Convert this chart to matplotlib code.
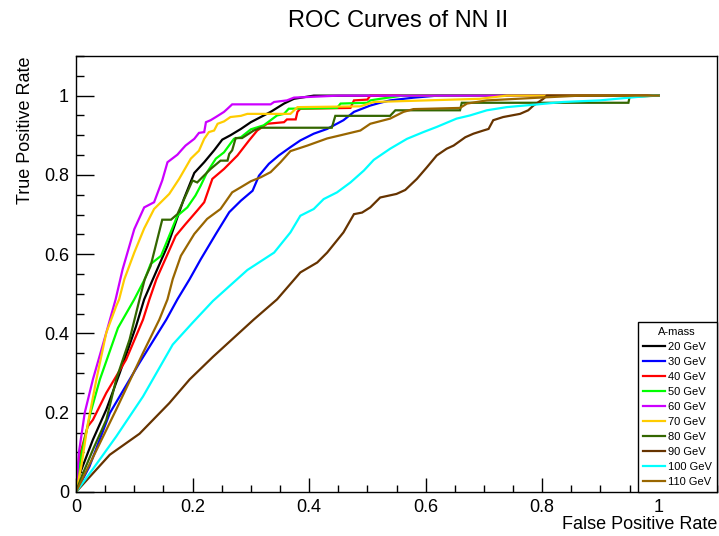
import matplotlib
matplotlib.use("Agg")
import matplotlib.pyplot as plt
from matplotlib.ticker import MultipleLocator

plt.rcParams['font.family'] = ['Liberation Sans', 'DejaVu Sans']

labels = ["20 GeV", "30 GeV", "40 GeV", "50 GeV", "60 GeV", "70 GeV", "80 GeV", "90 GeV", "100 GeV", "110 GeV"]
colors = ["#000000", "#0000ff", "#ff0000", "#00ff00", "#cc00ff", "#ffcc00", "#336600", "#663300", "#00ffff", "#996600"]

fpr_20 = [0, 0.005, 0.029, 0.052, 0.075, 0.103, 0.117, 0.132, 0.157, 0.185, 0.203, 0.22, 0.237, 0.251, 0.265, 0.283, 0.3, 0.317, 0.334, 0.357, 0.374, 0.408, 0.48, 1.0]
tpr_20 = [0, 0.04, 0.132, 0.208, 0.3, 0.418, 0.486, 0.537, 0.621, 0.739, 0.805, 0.832, 0.862, 0.889, 0.9, 0.916, 0.933, 0.946, 0.959, 0.98, 0.992, 1.0, 1.0, 1.0]

fpr_30 = [0, 0.023, 0.058, 0.109, 0.155, 0.174, 0.195, 0.214, 0.24, 0.263, 0.283, 0.303, 0.314, 0.331, 0.348, 0.368, 0.385, 0.408, 0.431, 0.459, 0.477, 0.505, 0.522, 0.539, 0.58, 0.62, 1.0]
tpr_30 = [0, 0.064, 0.199, 0.326, 0.435, 0.486, 0.537, 0.587, 0.651, 0.706, 0.735, 0.76, 0.798, 0.828, 0.849, 0.87, 0.887, 0.904, 0.916, 0.938, 0.959, 0.975, 0.982, 0.988, 0.995, 1.0, 1.0]

fpr_40 = [0, 0.008, 0.02, 0.029, 0.052, 0.086, 0.115, 0.126, 0.138, 0.171, 0.188, 0.208, 0.22, 0.234, 0.254, 0.277, 0.297, 0.311, 0.328, 0.357, 0.362, 0.377, 0.38, 0.385, 0.471, 0.477, 0.5, 0.505, 1.0]
tpr_40 = [0, 0.1, 0.165, 0.182, 0.25, 0.334, 0.435, 0.486, 0.537, 0.646, 0.676, 0.71, 0.731, 0.79, 0.815, 0.849, 0.887, 0.912, 0.929, 0.933, 0.94, 0.94, 0.959, 0.967, 0.969, 0.988, 0.99, 1.0, 1.0]

fpr_50 = [0, 0.01, 0.025, 0.041, 0.072, 0.1, 0.118, 0.128, 0.146, 0.174, 0.191, 0.205, 0.214, 0.225, 0.24, 0.254, 0.271, 0.283, 0.3, 0.322, 0.334, 0.345, 0.357, 0.365, 0.448, 0.454, 0.5, 0.505, 0.522, 0.56, 1.0]
tpr_50 = [0, 0.1, 0.2, 0.284, 0.414, 0.486, 0.537, 0.575, 0.596, 0.697, 0.718, 0.748, 0.773, 0.807, 0.841, 0.857, 0.891, 0.895, 0.915, 0.925, 0.938, 0.95, 0.954, 0.967, 0.969, 0.98, 0.982, 0.988, 0.992, 1.0, 1.0]

fpr_60 = [0, 0.005, 0.015, 0.029, 0.052, 0.068, 0.08, 0.1, 0.117, 0.134, 0.148, 0.157, 0.174, 0.183, 0.188, 0.203, 0.211, 0.22, 0.223, 0.231, 0.24, 0.254, 0.26, 0.268, 0.334, 0.34, 0.362, 0.374, 0.45, 1.0]
tpr_60 = [0, 0.1, 0.2, 0.284, 0.402, 0.486, 0.562, 0.663, 0.718, 0.731, 0.786, 0.832, 0.851, 0.866, 0.874, 0.891, 0.906, 0.908, 0.933, 0.938, 0.946, 0.959, 0.967, 0.978, 0.978, 0.984, 0.988, 0.995, 1.0, 1.0]

fpr_70 = [0, 0.009, 0.02, 0.035, 0.052, 0.069, 0.074, 0.083, 0.1, 0.117, 0.134, 0.16, 0.177, 0.197, 0.211, 0.22, 0.228, 0.237, 0.243, 0.254, 0.265, 0.283, 0.294, 0.368, 0.38, 0.488, 0.511, 0.693, 0.739, 1.0]
tpr_70 = [0, 0.064, 0.17, 0.284, 0.402, 0.469, 0.486, 0.537, 0.604, 0.665, 0.714, 0.752, 0.79, 0.841, 0.861, 0.891, 0.908, 0.912, 0.929, 0.935, 0.946, 0.949, 0.954, 0.954, 0.971, 0.973, 0.984, 0.992, 1.0, 1.0]

fpr_80 = [0, 0.01, 0.03, 0.052, 0.069, 0.092, 0.109, 0.118, 0.128, 0.148, 0.163, 0.174, 0.2, 0.208, 0.231, 0.248, 0.26, 0.263, 0.268, 0.274, 0.285, 0.305, 0.317, 0.439, 0.445, 0.539, 0.548, 0.659, 0.662, 0.948, 0.95, 1.0]
tpr_80 = [0, 0.04, 0.11, 0.182, 0.284, 0.385, 0.486, 0.537, 0.57, 0.687, 0.687, 0.701, 0.786, 0.781, 0.815, 0.836, 0.836, 0.853, 0.862, 0.893, 0.893, 0.912, 0.919, 0.919, 0.949, 0.949, 0.963, 0.963, 0.982, 0.982, 0.997, 1.0]

fpr_90 = [0, 0.058, 0.109, 0.16, 0.195, 0.235, 0.305, 0.345, 0.385, 0.414, 0.431, 0.459, 0.477, 0.491, 0.505, 0.522, 0.55, 0.565, 0.585, 0.602, 0.619, 0.636, 0.648, 0.668, 0.682, 0.699, 0.708, 0.716, 0.733, 0.762, 0.776, 0.785, 0.802, 0.808, 1.0]
tpr_90 = [0, 0.094, 0.147, 0.224, 0.284, 0.341, 0.435, 0.486, 0.554, 0.579, 0.604, 0.655, 0.701, 0.705, 0.718, 0.743, 0.752, 0.762, 0.79, 0.819, 0.849, 0.866, 0.874, 0.895, 0.904, 0.912, 0.916, 0.938, 0.946, 0.954, 0.963, 0.975, 0.992, 1.0, 1.0]

fpr_100 = [0, 0.03, 0.069, 0.115, 0.166, 0.2, 0.235, 0.294, 0.34, 0.368, 0.385, 0.408, 0.425, 0.448, 0.471, 0.494, 0.511, 0.539, 0.568, 0.596, 0.619, 0.653, 0.676, 0.705, 0.739, 0.785, 0.836, 0.899, 0.95, 0.99, 1.0]
tpr_100 = [0, 0.06, 0.14, 0.241, 0.372, 0.427, 0.482, 0.56, 0.604, 0.655, 0.697, 0.714, 0.739, 0.756, 0.781, 0.811, 0.838, 0.866, 0.891, 0.908, 0.921, 0.942, 0.95, 0.963, 0.971, 0.977, 0.984, 0.988, 0.995, 1.0, 1.0]

fpr_110 = [0, 0.03, 0.069, 0.115, 0.143, 0.157, 0.166, 0.18, 0.203, 0.225, 0.248, 0.268, 0.283, 0.3, 0.317, 0.334, 0.351, 0.368, 0.397, 0.431, 0.454, 0.488, 0.505, 0.539, 0.562, 0.579, 0.659, 0.671, 0.705, 0.796, 0.865, 1.0]
tpr_110 = [0, 0.09, 0.208, 0.351, 0.435, 0.486, 0.537, 0.596, 0.651, 0.689, 0.714, 0.756, 0.769, 0.784, 0.794, 0.807, 0.832, 0.86, 0.874, 0.892, 0.9, 0.912, 0.929, 0.942, 0.959, 0.966, 0.969, 0.98, 0.988, 0.995, 1.0, 1.0]

fprs = [fpr_20, fpr_30, fpr_40, fpr_50, fpr_60, fpr_70, fpr_80, fpr_90, fpr_100, fpr_110]
tprs = [tpr_20, tpr_30, tpr_40, tpr_50, tpr_60, tpr_70, tpr_80, tpr_90, tpr_100, tpr_110]

fig = plt.figure(figsize=(7.19, 5.36), dpi=100)
ax = fig.add_axes([76/719, 44/536, (717-76)/719, (492-56)/536])

for fx, ty, c, lab in zip(fprs, tprs, colors, labels):
    ax.plot(fx, ty, color=c, lw=1.6, label=lab, solid_joinstyle='miter')

ax.set_xlim(0, 1.1)
ax.set_ylim(0, 1.1)
ax.xaxis.set_minor_locator(MultipleLocator(0.05))
ax.yaxis.set_minor_locator(MultipleLocator(0.05))
ax.set_xticks([0, 0.2, 0.4, 0.6, 0.8, 1.0])
ax.set_xticklabels(["0", "0.2", "0.4", "0.6", "0.8", "1"])
ax.set_yticks([0, 0.2, 0.4, 0.6, 0.8, 1.0])
ax.set_yticklabels(["0", "0.2", "0.4", "0.6", "0.8", "1"])
ax.tick_params(axis='x', which='major', direction='in', length=10, width=1, labelsize=13, pad=5)
ax.tick_params(axis='x', which='minor', direction='in', length=5, width=1)
ax.tick_params(axis='y', which='major', direction='in', length=13, width=1, labelsize=13, pad=5)
ax.tick_params(axis='y', which='minor', direction='in', length=6, width=1)
for s in ax.spines.values():
    s.set_linewidth(1.0)

ax.set_xlabel("False Positive Rate", fontsize=13, loc='right', labelpad=0)
ax.set_ylabel("True Positive Rate", fontsize=13, loc='top', labelpad=7)
fig.text(398/719, 1 - 21/536, "ROC Curves of NN II", fontsize=17, ha='center', va='center')

leg = ax.legend(loc='lower right', bbox_to_anchor=(1.0, 0.0), borderaxespad=0.0,
                title="A-mass", fontsize=8, title_fontsize=8, fancybox=False,
                edgecolor='black', framealpha=1, handlelength=2.0, handletextpad=0.3,
                labelspacing=0.45, borderpad=0.45)
leg.get_frame().set_linewidth(1.0)

fig.savefig("out.png", dpi=100)
